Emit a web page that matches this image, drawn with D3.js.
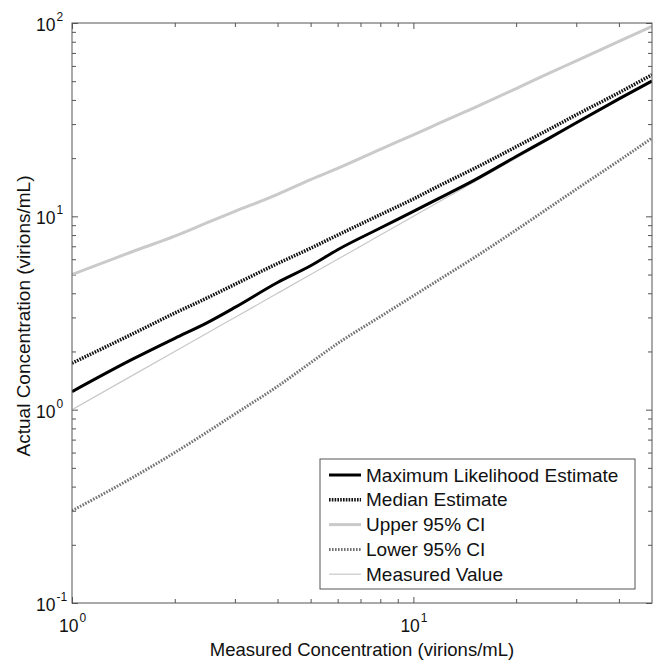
<!DOCTYPE html>
<html lang="en">
<head>
<meta charset="UTF-8" />
<title>Actual vs Measured Concentration</title>
<script src="https://cdn.jsdelivr.net/npm/d3@7"></script>
<style>
  body { margin: 0; background: #fff; }
  svg text { font-family: "Liberation Sans", Arial, Helvetica, sans-serif; fill: #111; }
  .axis path { display: none; }
  .axis line { stroke: #555; stroke-width: 1; }
</style>
</head>
<body>
<script>
// measured concentration (x) where the curves were read
var measured = [1, 1.5, 2, 2.5, 3, 4, 5, 6, 8, 10, 12, 15, 20, 25, 30, 40, 50];
var mle      = [1.24, 1.82, 2.34, 2.83, 3.38, 4.55, 5.55, 6.72, 8.7, 10.6, 12.5, 15.3, 20.4, 25.4, 30.5, 40.5, 50.1];
var median   = [1.74, 2.46, 3.16, 3.8, 4.45, 5.7, 6.84, 8.0, 10.2, 12.3, 14.5, 17.6, 22.9, 28.2, 33.5, 43.6, 54];
var upperCI  = [5.0, 6.56, 7.9, 9.3, 10.6, 13.0, 15.5, 17.7, 22.2, 26.4, 30.5, 36.3, 45.8, 55, 63.7, 80.4, 96];
var lowerCI  = [0.30, 0.444, 0.60, 0.77, 0.95, 1.32, 1.75, 2.2, 3.03, 3.88, 4.75, 6.08, 8.5, 11.1, 13.8, 19.4, 25.4];
var actualEqMeasured = measured.slice();

var seriesNames = ["Maximum Likelihood Estimate", "Median Estimate", "Upper 95% CI", "Lower 95% CI", "Measured Value"];

var xMajor = [1, 10];
var xMinor = [2, 3, 4, 5, 6, 7, 8, 9, 20, 30, 40];
var yMajor = [0.1, 1, 10, 100];
var yMinor = [0.2, 0.3, 0.4, 0.5, 0.6, 0.7, 0.8, 0.9, 2, 3, 4, 5, 6, 7, 8, 9, 20, 30, 40, 50, 60, 70, 80, 90];

var xTitle = "Measured Concentration (virions/mL)";
var yTitle = "Actual Concentration (virions/mL)";

var w = 660, h = 663;
var pLeft = 72, pRight = 652, pTop = 23, pBottom = 603;

var svg = d3.select("body").append("svg")
  .attr("width", w)
  .attr("height", h);

var x = d3.scaleLog().domain([1, 50]).range([pLeft, pRight]);
var y = d3.scaleLog().domain([0.1, 100]).range([pBottom, pTop]);

// ticks on all four sides, pointing in
function addAxis(axisFn, scale, vals, size, tx, ty) {
  svg.append("g")
    .attr("class", "axis")
    .attr("transform", "translate(" + tx + "," + ty + ")")
    .call(axisFn(scale).tickValues(vals).tickSize(size).tickFormat(""));
}
addAxis(d3.axisBottom, x, xMajor, -6, 0, pBottom);
addAxis(d3.axisBottom, x, xMinor, -4, 0, pBottom);
addAxis(d3.axisTop, x, xMajor, -6, 0, pTop);
addAxis(d3.axisTop, x, xMinor, -4, 0, pTop);
addAxis(d3.axisLeft, y, yMajor, -6, pLeft, 0);
addAxis(d3.axisLeft, y, yMinor, -4, pLeft, 0);
addAxis(d3.axisRight, y, yMajor, -6, pRight, 0);
addAxis(d3.axisRight, y, yMinor, -4, pRight, 0);

// lines
var lineStyles = [
  { vals: actualEqMeasured, color: "#c8c8c8", width: 1.2, dash: null },
  { vals: upperCI, color: "#cacaca", width: 3, dash: null },
  { vals: lowerCI, color: "#747474", width: 3, dash: "1.6,1.4" },
  { vals: median, color: "#111", width: 3.5, dash: "1.6,1.2" },
  { vals: mle, color: "#000", width: 3, dash: null }
];

var line = d3.line()
  .x(function(d) { return x(d[0]); })
  .y(function(d) { return y(d[1]); })
  .curve(d3.curveMonotoneX);

svg.append("defs").append("clipPath").attr("id", "plotclip")
  .append("rect")
  .attr("x", pLeft).attr("y", pTop)
  .attr("width", pRight - pLeft).attr("height", pBottom - pTop);

var plot = svg.append("g").attr("clip-path", "url(#plotclip)");

lineStyles.forEach(function(s) {
  plot.append("path")
    .datum(d3.zip(measured, s.vals))
    .attr("fill", "none")
    .attr("stroke", s.color)
    .attr("stroke-width", s.width)
    .attr("stroke-dasharray", s.dash)
    .attr("d", line);
});

// frame
svg.append("rect")
  .attr("x", pLeft).attr("y", pTop)
  .attr("width", pRight - pLeft).attr("height", pBottom - pTop)
  .attr("fill", "none")
  .attr("stroke", "#555")
  .attr("stroke-width", 1);

// tick labels as 10^n
xMajor.forEach(function(v) {
  var t = svg.append("text")
    .attr("x", x(v) - 13)
    .attr("y", pBottom + 29)
    .attr("font-size", 17.5);
  t.append("tspan").text("10");
  t.append("tspan").attr("font-size", 12).attr("dy", -10).attr("dx", 1).text(Math.round(Math.log10(v)));
});

yMajor.forEach(function(v) {
  var t = svg.append("text")
    .attr("x", 36)
    .attr("y", y(v) + 8)
    .attr("font-size", 17.5);
  t.append("tspan").text("10");
  t.append("tspan").attr("font-size", 12).attr("dy", -10).attr("dx", 1).text(Math.round(Math.log10(v)));
});

// axis titles
svg.append("text")
  .attr("x", 362)
  .attr("y", 656)
  .attr("text-anchor", "middle")
  .attr("font-size", 18.5)
  .text(xTitle);

svg.append("text")
  .attr("transform", "translate(30,316) rotate(-90)")
  .attr("text-anchor", "middle")
  .attr("font-size", 19)
  .text(yTitle);

// legend
var legendOrder = [4, 3, 1, 2, 0]; // index into lineStyles matching seriesNames
var lg = svg.append("g");
lg.append("rect")
  .attr("x", 320).attr("y", 459)
  .attr("width", 315).attr("height", 130)
  .attr("fill", "#fff")
  .attr("stroke", "#555")
  .attr("stroke-width", 1);

seriesNames.forEach(function(name, i) {
  var s = lineStyles[legendOrder[i]];
  var ly = 475 + i * 24.8;
  lg.append("line")
    .attr("x1", 329).attr("x2", 361)
    .attr("y1", ly).attr("y2", ly)
    .attr("stroke", s.color)
    .attr("stroke-width", s.width)
    .attr("stroke-dasharray", s.dash);
  lg.append("text")
    .attr("x", 366)
    .attr("y", ly + 6.5)
    .attr("font-size", 19)
    .text(name);
});
</script>
</body>
</html>
